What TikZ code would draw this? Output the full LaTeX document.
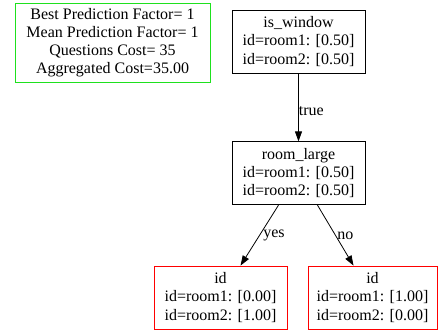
\documentclass[tikz,border=0pt]{standalone}
\usepackage{fontspec}
\setmainfont{Liberation Serif}
\usetikzlibrary{arrows.meta, positioning}
\definecolor{infogreen}{RGB}{30,225,30}

\begin{document}
\begin{tikzpicture}[
  x = 1pt, y = -1pt,
  box/.style  = {draw, minimum width=133pt, minimum height=63pt,
                 inner sep=0pt, align=center, line width=0.8pt,
                 font=\fontsize{16}{18.2}\selectfont},
  leaf/.style = {box, draw=red},
  info/.style = {box, draw=infogreen, minimum width=195pt,
                 minimum height=79pt},
  arr/.style  = {-{Triangle[length=10pt, width=7pt]}, line width=0.8pt},
  lbl/.style  = {anchor=west, inner sep=1.5pt,
                 font=\fontsize{16}{18.2}\selectfont}
]
\useasboundingbox (0,0) rectangle (438,331);
% summary
\node[info] (summary) at (112.5,42.5)
  {Best Prediction Factor= 1\\Mean Prediction Factor= 1\\
   Questions Cost= 35\\Aggregated Cost=35.00};
% tree nodes
\node[box] (window) at (298.5,41.5)
  {is\_window\\id=room1: [0.50]\\id=room2: [0.50]};
\node[box, below=68pt of window] (large)
  {room\_large\\id=room1: [0.50]\\id=room2: [0.50]};
\node[leaf] (leafA) at (220.5,297.5)
  {id\\id=room1: [0.00]\\id=room2: [1.00]};
\node[leaf, minimum width=129pt] (leafB) at (372.5,297.5)
  {id\\id=room1: [1.00]\\id=room2: [0.00]};
% edges
\draw[arr] (window) -- node[lbl, yshift=-4pt, inner sep=0pt] {true} (large);
\draw[arr] (large) -- node[lbl, xshift=2pt] {yes} (leafA);
\draw[arr] (large) -- node[lbl] {no} (leafB);
\end{tikzpicture}
\end{document}
